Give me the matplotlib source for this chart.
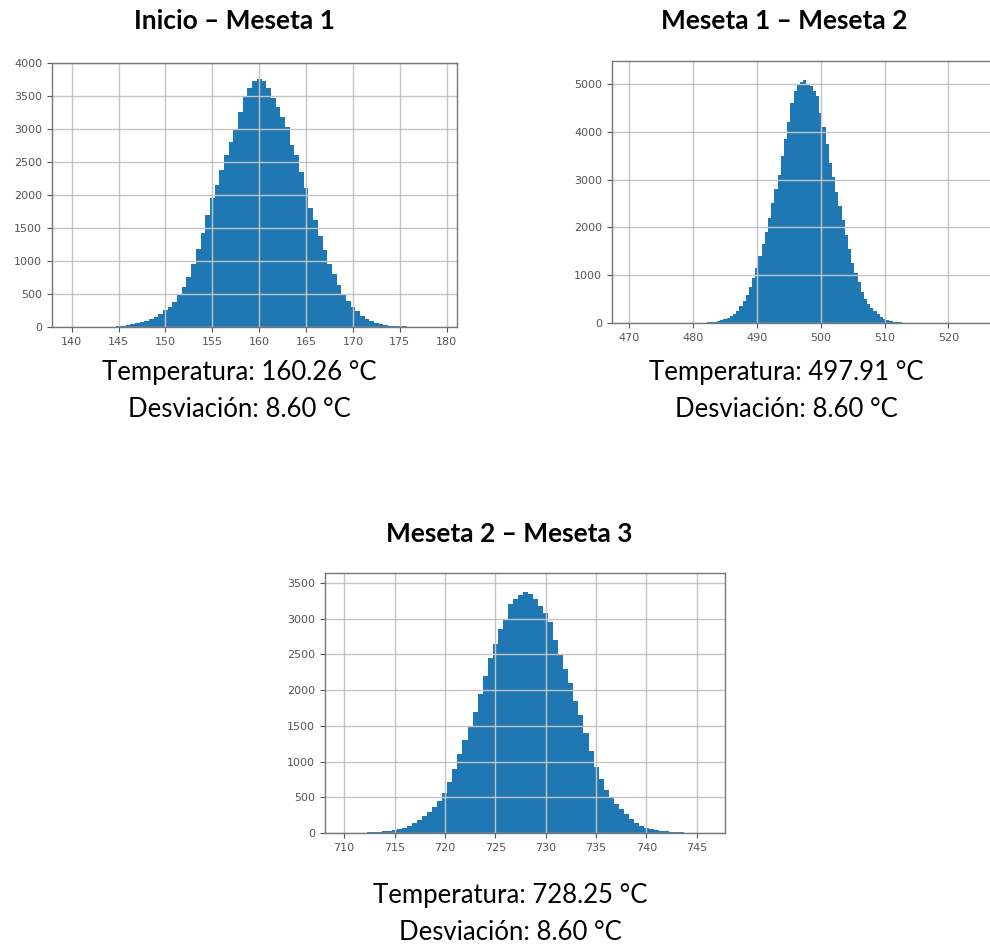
import matplotlib
matplotlib.use("Agg")
import matplotlib.pyplot as plt
import numpy as np

# ---------------- data (counts per bin) ----------------
bin_width = 0.5

p1_x = [144, 144.5, 145, 145.5, 146, 146.5, 147, 147.5, 148, 148.5, 149, 149.5,
        150, 150.5, 151, 151.5, 152, 152.5, 153, 153.5, 154, 154.5, 155, 155.5,
        156, 156.5, 157, 157.5, 158, 158.5, 159, 159.5, 160, 160.5, 161, 161.5,
        162, 162.5, 163, 163.5, 164, 164.5, 165, 165.5, 166, 166.5, 167, 167.5,
        168, 168.5, 169, 169.5, 170, 170.5, 171, 171.5, 172, 172.5, 173, 173.5,
        174, 174.5, 175, 175.5, 176, 176.5]
p1_counts = [3, 5, 15, 22, 30, 40, 55, 70, 90, 120, 150, 195,
             250, 300, 380, 480, 600, 750, 950, 1180, 1420, 1700, 1950, 2150,
             2380, 2600, 2800, 3000, 3250, 3480, 3620, 3720, 3750, 3720, 3620, 3470,
             3330, 3180, 3030, 2750, 2600, 2350, 2100, 1800, 1620, 1380, 1170, 960,
             800, 630, 490, 400, 300, 240, 170, 120, 85, 60, 40, 30,
             20, 15, 10, 8, 5, 3]

p2_x = [482, 482.5, 483, 483.5, 484, 484.5, 485, 485.5, 486, 486.5, 487, 487.5,
        488, 488.5, 489, 489.5, 490, 490.5, 491, 491.5, 492, 492.5, 493, 493.5,
        494, 494.5, 495, 495.5, 496, 496.5, 497, 497.5, 498, 498.5, 499, 499.5,
        500, 500.5, 501, 501.5, 502, 502.5, 503, 503.5, 504, 504.5, 505, 505.5,
        506, 506.5, 507, 507.5, 508, 508.5, 509, 509.5, 510, 510.5, 511, 511.5,
        512, 512.5, 513, 513.5, 514]
p2_counts = [10, 15, 20, 30, 40, 55, 75, 100, 140, 190, 260, 350,
             450, 580, 750, 950, 1150, 1400, 1650, 1900, 2200, 2500, 2800, 3100,
             3500, 3850, 4200, 4600, 4850, 5000, 5050, 5080, 5000, 4950, 4850, 4750,
             4400, 4100, 3750, 3350, 3050, 2750, 2450, 2150, 1850, 1550, 1250, 1050,
             850, 650, 500, 400, 320, 250, 180, 130, 90, 60, 40, 30,
             20, 15, 10, 6, 3]

p3_x = [712, 712.5, 713, 713.5, 714, 714.5, 715, 715.5, 716, 716.5, 717, 717.5,
        718, 718.5, 719, 719.5, 720, 720.5, 721, 721.5, 722, 722.5, 723, 723.5,
        724, 724.5, 725, 725.5, 726, 726.5, 727, 727.5, 728, 728.5, 729, 729.5,
        730, 730.5, 731, 731.5, 732, 732.5, 733, 733.5, 734, 734.5, 735, 735.5,
        736, 736.5, 737, 737.5, 738, 738.5, 739, 739.5, 740, 740.5, 741, 741.5,
        742, 742.5, 743, 743.5, 744, 744.5]
p3_counts = [5, 10, 15, 20, 25, 35, 45, 55, 75, 100, 140, 185,
             240, 300, 370, 450, 560, 720, 900, 1100, 1300, 1480, 1700, 1950,
             2200, 2450, 2650, 2850, 3000, 3200, 3280, 3330, 3370, 3350, 3280, 3180,
             3080, 2950, 2700, 2500, 2300, 2100, 1850, 1650, 1400, 1150, 920, 750,
             600, 500, 400, 330, 270, 200, 140, 100, 75, 55, 40, 30,
             22, 18, 14, 10, 7, 4]

titles = ["Inicio \u2013 Meseta 1", "Meseta 1 \u2013 Meseta 2", "Meseta 2 \u2013 Meseta 3"]
temperaturas = ["Temperatura: 160.26 \u00b0C", "Temperatura: 497.91 \u00b0C", "Temperatura: 728.25 \u00b0C"]
desviaciones = ["Desviaci\u00f3n: 8.60 \u00b0C", "Desviaci\u00f3n: 8.60 \u00b0C", "Desviaci\u00f3n: 8.60 \u00b0C"]

p1_xticks = [140, 145, 150, 155, 160, 165, 170, 175, 180]
p1_yticks = [0, 500, 1000, 1500, 2000, 2500, 3000, 3500, 4000]
p2_xticks = [470, 480, 490, 500, 510, 520]
p2_yticks = [0, 1000, 2000, 3000, 4000, 5000]
p3_xticks = [710, 715, 720, 725, 730, 735, 740, 745]
p3_yticks = [0, 500, 1000, 1500, 2000, 2500, 3000, 3500]

# ---------------- figure ----------------
W, H = 990, 947
fig = plt.figure(figsize=(W / 100, H / 100), dpi=100)
fig.patch.set_facecolor("white")

def px_axes(left, top, right, bottom):
    return fig.add_axes([left / W, 1 - bottom / H, (right - left) / W, (bottom - top) / H])

panels = [
    dict(box=(52, 63, 457, 327), x=p1_x, y=p1_counts, xlim=(137.9, 181.1), ylim=(0, 4000),
         xt=p1_xticks, yt=p1_yticks),
    dict(box=(612, 61, 997, 323), x=p2_x, y=p2_counts, xlim=(467.3, 527.6), ylim=(0, 5480),
         xt=p2_xticks, yt=p2_yticks),
    dict(box=(325, 573, 725, 833), x=p3_x, y=p3_counts, xlim=(708.1, 747.8), ylim=(0, 3640),
         xt=p3_xticks, yt=p3_yticks),
]

for p in panels:
    ax = px_axes(*p["box"])
    ax.bar(p["x"], p["y"], width=bin_width * 1.02, color="#1f77b4", linewidth=0, align="center")
    ax.set_xlim(*p["xlim"])
    ax.set_ylim(*p["ylim"])
    ax.set_xticks(p["xt"])
    ax.set_yticks(p["yt"])
    ax.grid(True, color="#c4c4c4", linewidth=1.0)
    ax.tick_params(labelsize=8, colors="#555555", length=3.5, width=0.8)
    for s in ax.spines.values():
        s.set_color("#777777")
        s.set_linewidth(1.0)

title_font = dict(family=["Lato", "DejaVu Sans"], fontsize=19, fontweight="bold", color="black")
body_font = dict(family=["Lato", "DejaVu Sans"], fontsize=18.5, color="black")

# titles (center x px, baseline y px)
title_pos = [(234, 29), (784, 29), (509, 542)]
for t, (cx, by) in zip(titles, title_pos):
    fig.text(cx / W, 1 - by / H, t, ha="center", va="baseline", **title_font)

text_pos = [(239, 380), (786, 380), (510, 903)]
for tmp, dsv, (cx, by) in zip(temperaturas, desviaciones, text_pos):
    fig.text(cx / W, 1 - by / H, tmp, ha="center", va="baseline", **body_font)
    fig.text(cx / W, 1 - (by + 37) / H, dsv, ha="center", va="baseline", **body_font)

fig.savefig("out.png", dpi=100, facecolor="white")
